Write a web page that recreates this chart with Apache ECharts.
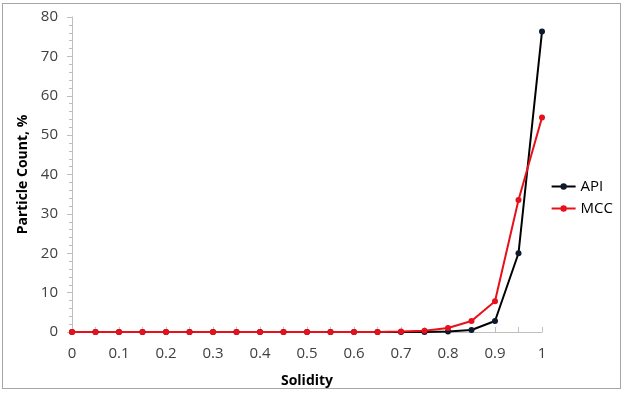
<!DOCTYPE html>
<html>
<head>
<meta charset="utf-8">
<script src="https://cdn.jsdelivr.net/npm/echarts@6/dist/echarts.min.js"></script>
<style>
  html, body { margin: 0; padding: 0; background: #fff; }
  #wrap { position: absolute; left: 2px; top: 3px; width: 619px; height: 386px; border: 1px solid #a6a6a6; box-sizing: border-box; }
  #chart { position: absolute; left: 0; top: 0; width: 624px; height: 393px; }
</style>
</head>
<body>
<div id="wrap"></div>
<div id="chart"></div>
<script>
// Solidity bins (0 to 1 in steps of 0.05)
const solidity = [0, 0.05, 0.1, 0.15, 0.2, 0.25, 0.3, 0.35, 0.4, 0.45, 0.5, 0.55, 0.6, 0.65, 0.7, 0.75, 0.8, 0.85, 0.9, 0.95, 1];
// Particle count percentages per bin
const apiCounts = [0, 0, 0, 0, 0, 0, 0, 0, 0, 0, 0, 0, 0, 0, 0, 0, 0.1, 0.5, 2.8, 20.0, 76.3];
const mccCounts = [0, 0, 0, 0, 0, 0, 0, 0, 0, 0, 0, 0, 0, 0, 0.1, 0.3, 1.0, 2.8, 7.8, 33.5, 54.5];

const pairs = (xs, ys) => xs.map((x, i) => [x, ys[i]]);

const axisGray = '#bfbfbf';
const font = 'Open Sans, Liberation Sans, sans-serif';

const chart = echarts.init(document.getElementById('chart'), null, { renderer: 'canvas' });
chart.setOption({
  animation: false,
  backgroundColor: 'transparent',
  grid: { left: 72, right: 82, top: 17, bottom: 61 },
  legend: {
    orient: 'vertical',
    right: 6,
    top: 174,
    itemWidth: 24,
    itemHeight: 8,
    itemGap: 7,
    textStyle: { fontFamily: font, fontSize: 15, color: '#000' },
    data: ['API', 'MCC']
  },
  xAxis: {
    type: 'value',
    min: 0, max: 1, interval: 0.1,
    name: 'Solidity',
    nameLocation: 'middle',
    nameGap: 42,
    nameTextStyle: { fontFamily: font, fontSize: 14, fontWeight: 'bold', color: '#000' },
    axisLine: { show: true, lineStyle: { color: axisGray } },
    axisTick: { show: true, length: 5, inside: true, lineStyle: { color: axisGray } },
    minorTick: { show: true, splitNumber: 2, length: 5, lineStyle: { color: axisGray } },
    splitLine: { show: false },
    axisLabel: { fontFamily: font, fontSize: 15, color: '#404040', margin: 14 }
  },
  yAxis: {
    type: 'value',
    min: 0, max: 80, interval: 10,
    name: 'Particle Count, %',
    nameLocation: 'middle',
    nameGap: 41,
    nameTextStyle: { fontFamily: font, fontSize: 14, fontWeight: 'bold', color: '#000' },
    axisLine: { show: true, lineStyle: { color: axisGray } },
    axisTick: { show: true, length: 5, lineStyle: { color: axisGray } },
    minorTick: { show: true, splitNumber: 5, length: 3, lineStyle: { color: axisGray } },
    splitLine: { show: false },
    axisLabel: { fontFamily: font, fontSize: 15, color: '#404040', margin: 14 }
  },
  series: [
    {
      name: 'API',
      type: 'line',
      data: pairs(solidity, apiCounts),
      symbol: 'circle',
      symbolSize: 6,
      lineStyle: { color: '#000', width: 2 },
      itemStyle: { color: '#0d1a2e' }
    },
    {
      name: 'MCC',
      type: 'line',
      data: pairs(solidity, mccCounts),
      symbol: 'circle',
      symbolSize: 6,
      lineStyle: { color: '#e8101a', width: 2 },
      itemStyle: { color: '#e8101a' }
    }
  ]
});
</script>
</body>
</html>
